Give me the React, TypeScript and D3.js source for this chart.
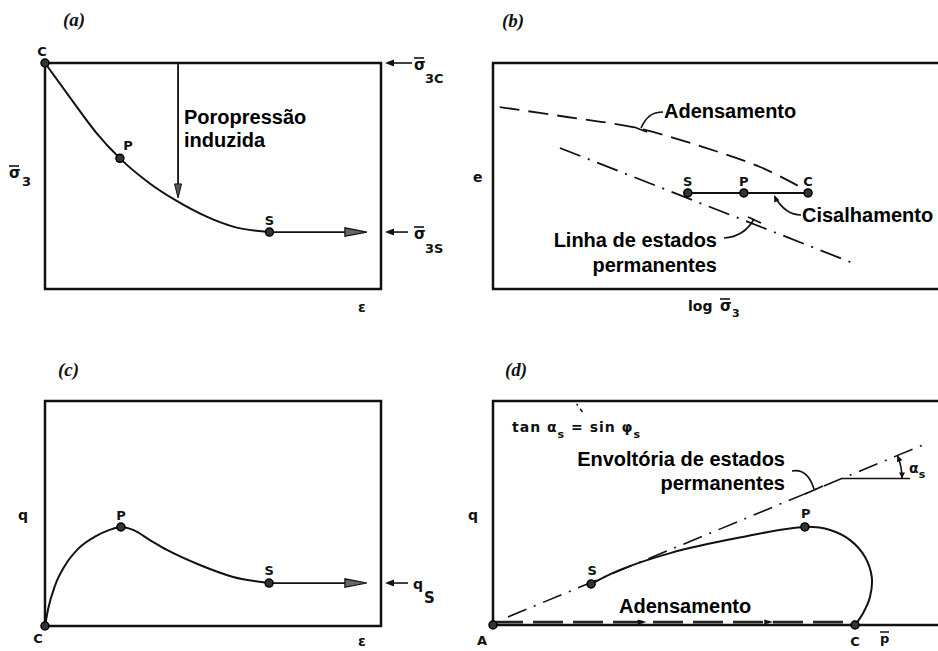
import React from 'react';
import * as d3 from 'd3';

type Pt = [number, number];

// (a) effective confining stress against axial strain: undrained shear C -> P (peak) -> S (steady state)
const stressStrainA: Pt[] = [
  [0, 100], [8, 83.6], [15.4, 68.9], [22.3, 57.8], [31.2, 46.7],
  [38.7, 39.4], [48.1, 32], [56, 27.6], [66.8, 25.2],
];
const pointsA = [
  { id: 'C', x: 0, y: 100 },
  { id: 'P', x: 22.3, y: 57.8 },
  { id: 'S', x: 66.8, y: 25.2 },
];
const steadyArrowEndA = 95.8;
const poreArrowA = { x: 39.6, from: 100, to: 40.3 };

// (b) void ratio against log of effective confining stress
const consolidationB: Pt[] = [
  [1.5, 80.5], [16.4, 76.1], [31.9, 71.2], [46.5, 62.8], [59.1, 54], [68.4, 44.7],
];
const steadyLineB: Pt[] = [[14.8, 62.4], [79.6, 11.5]];
const shearB = [
  { id: 'S', x: 43.1, y: 42.5 },
  { id: 'P', x: 55.5, y: 42.5 },
  { id: 'C', x: 69.7, y: 42.5 },
];

// (c) deviator stress against axial strain
const deviatorC: Pt[] = [
  [0, 0], [1, 8], [3, 18], [6, 27], [10, 34.5], [15, 39.8], [19, 42.6],
  [22.6, 44], [26.2, 42.7], [31.25, 38.2], [36.3, 33.8], [46.1, 27.1],
  [56, 21.8], [66.7, 19.1],
];
const pointsC = [
  { id: 'C', x: 0, y: 0 },
  { id: 'P', x: 22.6, y: 44 },
  { id: 'S', x: 66.7, y: 19.1 },
];
const steadyArrowEndC = 95.8;

// (d) stress path in q - p' space
const stressPathD: Pt[] = [
  [21.7, 18.3], [28.1, 24.6], [39.2, 32.1], [54, 38.8], [69, 43.8],
  [74.6, 42.4], [79, 37.9], [82.3, 30.4], [83.8, 21.4], [83.4, 12.5],
  [81.9, 5.4], [80.1, 0],
];
const envelopeD: Pt[] = [[3.3, 3.6], [95.6, 80.8]];
const consolidationD: Pt[] = [[0, 1.3], [80.1, 1.3]];
const pointsD = [
  { id: 'S', x: 21.7, y: 18.3 },
  { id: 'P', x: 69, y: 43.8 },
  { id: 'C', x: 80.1, y: 0 },
  { id: 'A', x: 0, y: 0 },
];

type Box = { left: number; right: number; top: number; bottom: number };
const boxA: Box = { left: 45, right: 381, top: 63, bottom: 289 };
const boxB: Box = { left: 493, right: 945, top: 63, bottom: 289 };
const boxC: Box = { left: 45, right: 381, top: 401, bottom: 626 };
const boxD: Box = { left: 493, right: 945, top: 401, bottom: 625 };

const scalesFor = (b: Box) => ({
  x: d3.scaleLinear().domain([0, 100]).range([b.left, b.right]),
  y: d3.scaleLinear().domain([0, 100]).range([b.bottom, b.top]),
});

const INK = '#111';
const annot: React.CSSProperties = {
  fontFamily: '"Liberation Sans", Arial, sans-serif',
  fontWeight: 700,
  fontSize: 20,
};
const letter: React.CSSProperties = {
  fontFamily: '"DejaVu Sans", sans-serif',
  fontWeight: 700,
  fontSize: 13,
};
const title: React.CSSProperties = {
  fontFamily: '"Liberation Serif", serif',
  fontStyle: 'italic',
  fontWeight: 700,
  fontSize: 19,
};

function head(tip: Pt, dir: Pt, len: number, half: number): string {
  const n = Math.hypot(dir[0], dir[1]);
  const ux = dir[0] / n, uy = dir[1] / n;
  const bx = tip[0] - ux * len, by = tip[1] - uy * len;
  return [
    [tip[0], tip[1]],
    [bx - uy * half, by + ux * half],
    [bx + uy * half, by - ux * half],
  ].map((p) => p.join(',')).join(' ');
}

function Dot({ cx, cy }: { cx: number; cy: number }) {
  return <circle cx={cx} cy={cy} r={4} fill="#333" stroke="#000" strokeWidth={1.5} />;
}

function SigmaBar({ x, y, sub, subSize = 13, dx = 12, dy = 9 }: { x: number; y: number; sub: string; subSize?: number; dx?: number; dy?: number }) {
  return (
    <g>
      <text x={x} y={y} style={{ ...letter, fontSize: 15 }} fill={INK}>σ</text>
      <line x1={x} x2={x + 10} y1={y - 12} y2={y - 12} stroke={INK} strokeWidth={1.6} />
      <text x={x + dx} y={y + dy} style={{ ...letter, fontSize: subSize }} fill={INK}>{sub}</text>
    </g>
  );
}

function SideArrow({ xFrom, xTo, y }: { xFrom: number; xTo: number; y: number }) {
  return (
    <g>
      <line x1={xFrom} x2={xTo + 6} y1={y} y2={y} stroke={INK} strokeWidth={1.6} />
      <polygon points={head([xTo, y], [-1, 0], 9, 3.5)} fill={INK} />
    </g>
  );
}

function SteadyArrow({ x1, x2, y }: { x1: number; x2: number; y: number }) {
  return (
    <g>
      <line x1={x1} x2={x2 - 12} y1={y} y2={y} stroke={INK} strokeWidth={1.8} />
      <polygon points={head([x2, y], [1, 0], 22, 4.2)} fill="#666" stroke={INK} strokeWidth={1.2} />
    </g>
  );
}

export default function App() {
  const sA = scalesFor(boxA);
  const sB = scalesFor(boxB);
  const sC = scalesFor(boxC);
  const sD = scalesFor(boxD);

  const smoothX = (s: ReturnType<typeof scalesFor>) =>
    d3.line<Pt>().x((d) => s.x(d[0])).y((d) => s.y(d[1])).curve(d3.curveMonotoneX);
  const lineOf = (s: ReturnType<typeof scalesFor>) =>
    d3.line<Pt>().x((d) => s.x(d[0])).y((d) => s.y(d[1])).curve(d3.curveCatmullRom.alpha(0.5));
  const straight = (s: ReturnType<typeof scalesFor>) =>
    d3.line<Pt>().x((d) => s.x(d[0])).y((d) => s.y(d[1]));

  const rect = (b: Box) => (
    <rect x={b.left} y={b.top} width={b.right - b.left} height={b.bottom - b.top}
      fill="none" stroke={INK} strokeWidth={2.5} />
  );

  // angle marker in (d): horizontal reference from the envelope
  const envSlope = (sD.y(envelopeD[1][1]) - sD.y(envelopeD[0][1])) / (sD.x(envelopeD[1][0]) - sD.x(envelopeD[0][0]));
  const angStartX = 842;
  const angY = sD.y(envelopeD[0][1]) + (angStartX - sD.x(envelopeD[0][0])) * envSlope;
  const theta = Math.atan(-envSlope);
  const r = 60;
  const arcEnd: Pt = [angStartX + r * Math.cos(theta), angY - r * Math.sin(theta)];

  return (
    <svg width={938} height={651} style={{ position: 'absolute', left: 0, top: 0, background: '#fff' }}>
      {/* ---------- (a) ---------- */}
      <text x={63} y={26} style={title} fill={INK}>(a)</text>
      {rect(boxA)}
      <path d={smoothX(sA)(stressStrainA) ?? ''} fill="none" stroke={INK} strokeWidth={2} />
      <SteadyArrow x1={sA.x(pointsA[2].x)} x2={sA.x(steadyArrowEndA)} y={sA.y(pointsA[2].y)} />
      <line x1={sA.x(poreArrowA.x)} x2={sA.x(poreArrowA.x)} y1={sA.y(poreArrowA.from)} y2={sA.y(poreArrowA.to) - 8}
        stroke={INK} strokeWidth={1.8} />
      <polygon points={head([sA.x(poreArrowA.x), sA.y(poreArrowA.to)], [0, 1], 14, 3.5)} fill="#555" stroke={INK} strokeWidth={1} />
      {pointsA.map((p) => <Dot key={p.id} cx={sA.x(p.x)} cy={sA.y(p.y)} />)}
      <text x={sA.x(pointsA[0].x) - 3} y={sA.y(pointsA[0].y) - 7} textAnchor="middle" style={letter} fill={INK}>C</text>
      <text x={sA.x(pointsA[1].x) + 8} y={sA.y(pointsA[1].y) - 8} textAnchor="middle" style={letter} fill={INK}>P</text>
      <text x={sA.x(pointsA[2].x)} y={sA.y(pointsA[2].y) - 7} textAnchor="middle" style={letter} fill={INK}>S</text>
      <text x={184} y={124} style={annot} fill="#000">Poropressão</text>
      <text x={184} y={147} style={annot} fill="#000">induzida</text>
      <SideArrow xFrom={412} xTo={385} y={sA.y(100)} />
      <SigmaBar x={414} y={70} sub="3C" dx={11} dy={13} />
      <SideArrow xFrom={408} xTo={385} y={sA.y(pointsA[2].y)} />
      <SigmaBar x={414} y={239} sub="3S" dx={11} dy={14} />
      <SigmaBar x={9} y={178} sub="3" dx={13} dy={8} />
      <text x={362} y={312} textAnchor="middle" style={{ ...letter, fontSize: 14 }} fill={INK}>ε</text>

      {/* ---------- (b) ---------- */}
      <text x={502} y={27} style={title} fill={INK}>(b)</text>
      {rect(boxB)}
      <path d={lineOf(sB)(consolidationB) ?? ''} fill="none" stroke={INK} strokeWidth={1.8} strokeDasharray="20 9" />
      <path d={straight(sB)(steadyLineB) ?? ''} fill="none" stroke={INK} strokeWidth={1.8} strokeDasharray="22 8 2 8" />
      <line x1={sB.x(shearB[0].x)} x2={sB.x(shearB[2].x)} y1={sB.y(shearB[0].y)} y2={sB.y(shearB[2].y)}
        stroke={INK} strokeWidth={2} />
      {shearB.map((p) => (
        <g key={p.id}>
          <Dot cx={sB.x(p.x)} cy={sB.y(p.y)} />
          <text x={sB.x(p.x)} y={sB.y(p.y) - 7} textAnchor="middle" style={letter} fill={INK}>{p.id}</text>
        </g>
      ))}
      <text x={664} y={118} style={annot} fill="#000">Adensamento</text>
      <path d="M663,112 C652,112 646,117 641,128" fill="none" stroke={INK} strokeWidth={1.6} />
      <path d="M634,127 L647,132" fill="none" stroke={INK} strokeWidth={1.8} />
      <text x={802} y={222} style={annot} fill="#000">Cisalhamento</text>
      <path d="M801,215 C790,215 782,209 775,197" fill="none" stroke={INK} strokeWidth={1.6} />
      <polygon points={head([774, 195], [-0.45, -1], 7, 2.8)} fill={INK} />
      <text x={717} y={247} textAnchor="end" style={annot} fill="#000">Linha de estados</text>
      <text x={717} y={272} textAnchor="end" style={annot} fill="#000">permanentes</text>
      <path d="M724,238 C738,237 748,230 754,219" fill="none" stroke={INK} strokeWidth={1.6} />
      <path d="M748,217 L761,223" fill="none" stroke={INK} strokeWidth={1.8} />
      <text x={473} y={182} style={{ ...letter, fontSize: 14 }} fill={INK}>e</text>
      <text x={688} y={311} style={{ ...letter, fontSize: 14 }} fill={INK}>log</text>
      <SigmaBar x={720} y={311} sub="3" dx={12} dy={6} subSize={11} />

      {/* ---------- (c) ---------- */}
      <text x={58} y={376} style={title} fill={INK}>(c)</text>
      {rect(boxC)}
      <path d={smoothX(sC)(deviatorC) ?? ''} fill="none" stroke={INK} strokeWidth={2} />
      <SteadyArrow x1={sC.x(pointsC[2].x)} x2={sC.x(steadyArrowEndC)} y={sC.y(pointsC[2].y)} />
      {pointsC.map((p) => <Dot key={p.id} cx={sC.x(p.x)} cy={sC.y(p.y)} />)}
      <text x={38} y={643} textAnchor="middle" style={letter} fill={INK}>C</text>
      <text x={sC.x(pointsC[1].x)} y={sC.y(pointsC[1].y) - 7} textAnchor="middle" style={letter} fill={INK}>P</text>
      <text x={sC.x(pointsC[2].x)} y={sC.y(pointsC[2].y) - 8} textAnchor="middle" style={letter} fill={INK}>S</text>
      <SideArrow xFrom={408} xTo={385} y={sC.y(pointsC[2].y)} />
      <text x={413} y={589} style={{ ...letter, fontSize: 14 }} fill={INK}>q</text>
      <text x={424} y={603} style={{ ...letter, fontSize: 15 }} fill={INK}>S</text>
      <text x={18} y={520} style={{ ...letter, fontSize: 14 }} fill={INK}>q</text>
      <text x={362} y={646} textAnchor="middle" style={{ ...letter, fontSize: 14 }} fill={INK}>ε</text>

      {/* ---------- (d) ---------- */}
      <text x={505} y={376} style={title} fill={INK}>(d)</text>
      {rect(boxD)}
      <path d={straight(sD)(consolidationD) ?? ''} fill="none" stroke="#222" strokeWidth={2.6} strokeDasharray="30 10" />
      <polygon points={head([sD.x(34), sD.y(1.3)], [1, 0], 9, 2.5)} fill={INK} />
      <polygon points={head([sD.x(62), sD.y(1.3)], [1, 0], 9, 2.5)} fill={INK} />
      <path d={straight(sD)(envelopeD) ?? ''} fill="none" stroke={INK} strokeWidth={1.6} strokeDasharray="20 8 2 8" />
      <path d={straight(sD)([[18.5, 98.7], [20.1, 94.2]]) ?? ''} fill="none" stroke={INK} strokeWidth={1.5} strokeDasharray="2 4 4 4" />
      <path d={lineOf(sD)(stressPathD) ?? ''} fill="none" stroke={INK} strokeWidth={2} />
      {pointsD.map((p) => <Dot key={p.id} cx={sD.x(p.x)} cy={sD.y(p.y)} />)}
      <text x={sD.x(21.7) + 1} y={sD.y(18.3) - 9} textAnchor="middle" style={letter} fill={INK}>S</text>
      <text x={sD.x(69) + 1} y={sD.y(43.8) - 9} textAnchor="middle" style={letter} fill={INK}>P</text>
      <text x={855} y={646} textAnchor="middle" style={letter} fill={INK}>C</text>
      <text x={482} y={645} textAnchor="middle" style={letter} fill={INK}>A</text>
      <text x={880} y={643} style={{ ...letter, fontSize: 13 }} fill={INK}>p</text>
      <line x1={880} x2={889} y1={632} y2={632} stroke={INK} strokeWidth={1.5} />
      <text x={468} y={520} style={{ ...letter, fontSize: 14 }} fill={INK}>q</text>
      <text x={512} y={432} style={{ ...letter, fontSize: 14, letterSpacing: 1 }} fill={INK}>
        tan α<tspan dy={6} fontSize={11}>s</tspan>
        <tspan dy={-6}> = sin φ</tspan>
        <tspan dy={6} fontSize={11}>s</tspan>
      </text>
      <text x={785} y={466} textAnchor="end" style={annot} fill="#000">Envoltória de estados</text>
      <text x={785} y={490} textAnchor="end" style={annot} fill="#000">permanentes</text>
      <path d="M792,471 C803,469 810,476 814,489" fill="none" stroke={INK} strokeWidth={1.6} />
      <path d="M805,494 L823,486" fill="none" stroke={INK} strokeWidth={1.8} />
      <text x={619} y={613} style={annot} fill="#000">Adensamento</text>
      <line x1={angStartX} x2={910} y1={angY} y2={angY} stroke={INK} strokeWidth={1.6} />
      <path d={`M${arcEnd[0]},${arcEnd[1]} A${r},${r} 0 0 1 ${angStartX + r},${angY}`} fill="none" stroke={INK} strokeWidth={1.6} />
      <polygon points={head(arcEnd, [-Math.sin(theta), -Math.cos(theta)], 6, 3)} fill={INK} />
      <polygon points={head([angStartX + r, angY], [0, 1], 6, 3)} fill={INK} />
      <text x={909} y={473} style={{ ...letter, fontSize: 14 }} fill={INK}>α<tspan dy={5} fontSize={11}>s</tspan></text>
    </svg>
  );
}
